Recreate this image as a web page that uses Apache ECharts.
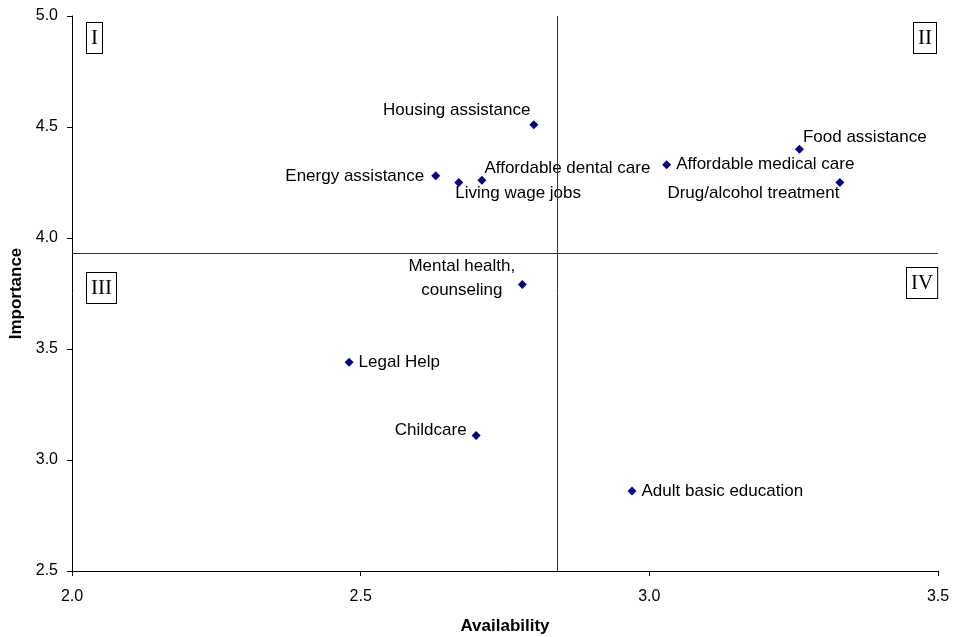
<!DOCTYPE html>
<html>
<head>
<meta charset="utf-8">
<script src="https://cdn.jsdelivr.net/npm/echarts@6/dist/echarts.min.js"></script>
<style>
  html, body { margin: 0; padding: 0; background: #fff; }
  #chart { width: 955px; height: 637px; }
</style>
</head>
<body>
<div id="chart"></div>
<script>
// services, availability (x) and importance (y)
let names = ["Housing assistance", "Energy assistance", "Living wage jobs", "Affordable dental care",
  "Affordable medical care", "Food assistance", "Drug/alcohol treatment", "Mental health,\ncounseling",
  "Legal Help", "Childcare", "Adult basic education"];
let availability = [2.80, 2.63, 2.67, 2.71, 3.03, 3.26, 3.33, 2.78, 2.48, 2.70, 2.97];
let importance = [4.51, 4.28, 4.25, 4.26, 4.33, 4.40, 4.25, 3.79, 3.44, 3.11, 2.86];
let xTicks = [2.0, 2.5, 3.0, 3.5];
let yTicks = [2.5, 3.0, 3.5, 4.0, 4.5, 5.0];
let quadrantX = 2.842; // mean availability
let quadrantY = 3.928; // mean importance
let quadrants = ["I", "II", "III", "IV"];

// label placement per point
let labelStyle = [
  {position: 'left', offset: [6, -14]},
  {position: 'left', offset: [-2, 0]},
  {position: 'right', offset: [-13, 11]},
  {position: 'right', offset: [-7, -12]},
  {position: 'right', offset: [0, 0]},
  {position: 'right', offset: [-6, -12]},
  {position: 'left', offset: [9, 11]},
  {position: [-56, -2], align: 'center', verticalAlign: 'middle', lineHeight: 24},
  {position: 'right', offset: [0, 0]},
  {position: 'left', offset: [0, -5]},
  {position: 'right', offset: [0, 0]}
];

let data = names.map((n, i) => ({
  name: n,
  value: [availability[i], importance[i]],
  label: labelStyle[i]
}));

let chart = echarts.init(document.getElementById('chart'));

let boxStyle = (t, x, y) => ({
  type: 'text',
  left: x,
  top: y,
  style: {
    text: t,
    font: '21px "Liberation Serif", "DejaVu Serif", serif',
    fill: '#000',
    backgroundColor: '#fff',
    borderColor: '#000',
    borderWidth: 1,
    padding: [5, 4, 4, 4]
  },
  z: 100
});

let font = 'Liberation Sans, Arial, sans-serif';

let option = {
  animation: false,
  grid: {left: 72, right: 17, top: 16, bottom: 66, containLabel: false, outerBoundsMode: 'none'},
  xAxis: {
    type: 'value',
    min: 2.0, max: 3.5, interval: 0.5,
    name: 'Availability',
    nameLocation: 'middle',
    nameGap: 47,
    nameTextStyle: {fontFamily: font, fontWeight: 'bold', fontSize: 17, color: '#000'},
    axisLine: {lineStyle: {color: '#000', width: 1}},
    axisTick: {show: true, inside: false, length: 5, lineStyle: {color: '#000'}},
    axisLabel: {fontFamily: font, fontSize: 16, color: '#000', margin: 18,
      formatter: v => v.toFixed(1)},
    splitLine: {show: false}
  },
  yAxis: {
    type: 'value',
    min: 2.5, max: 5.0, interval: 0.5,
    name: 'Importance',
    nameLocation: 'middle',
    nameGap: 45,
    nameRotate: 90,
    nameTextStyle: {fontFamily: font, fontWeight: 'bold', fontSize: 17, color: '#000'},
    axisLine: {show: true, lineStyle: {color: '#000', width: 1}},
    axisTick: {show: true, inside: false, length: 5, lineStyle: {color: '#000'}},
    axisLabel: {fontFamily: font, fontSize: 16, color: '#000', margin: 14,
      formatter: v => v.toFixed(1)},
    splitLine: {show: false}
  },
  series: [{
    type: 'scatter',
    symbol: 'diamond',
    symbolSize: 9,
    itemStyle: {color: '#000080', opacity: 1},
    label: {
      show: true,
      formatter: p => p.name,
      fontFamily: font,
      fontSize: 17,
      color: '#000'
    },
    data: data,
    markLine: {
      silent: true,
      symbol: ['none', 'none'],
      label: {show: false},
      lineStyle: {color: '#333', type: 'solid', width: 1},
      data: [{xAxis: quadrantX}, {yAxis: quadrantY}]
    }
  }],
  graphic: [
    boxStyle(quadrants[0], 86, 22),
    boxStyle(quadrants[1], 913, 22),
    boxStyle(quadrants[2], 86, 272),
    boxStyle(quadrants[3], 906, 267)
  ]
};

chart.setOption(option);
</script>
</body>
</html>
